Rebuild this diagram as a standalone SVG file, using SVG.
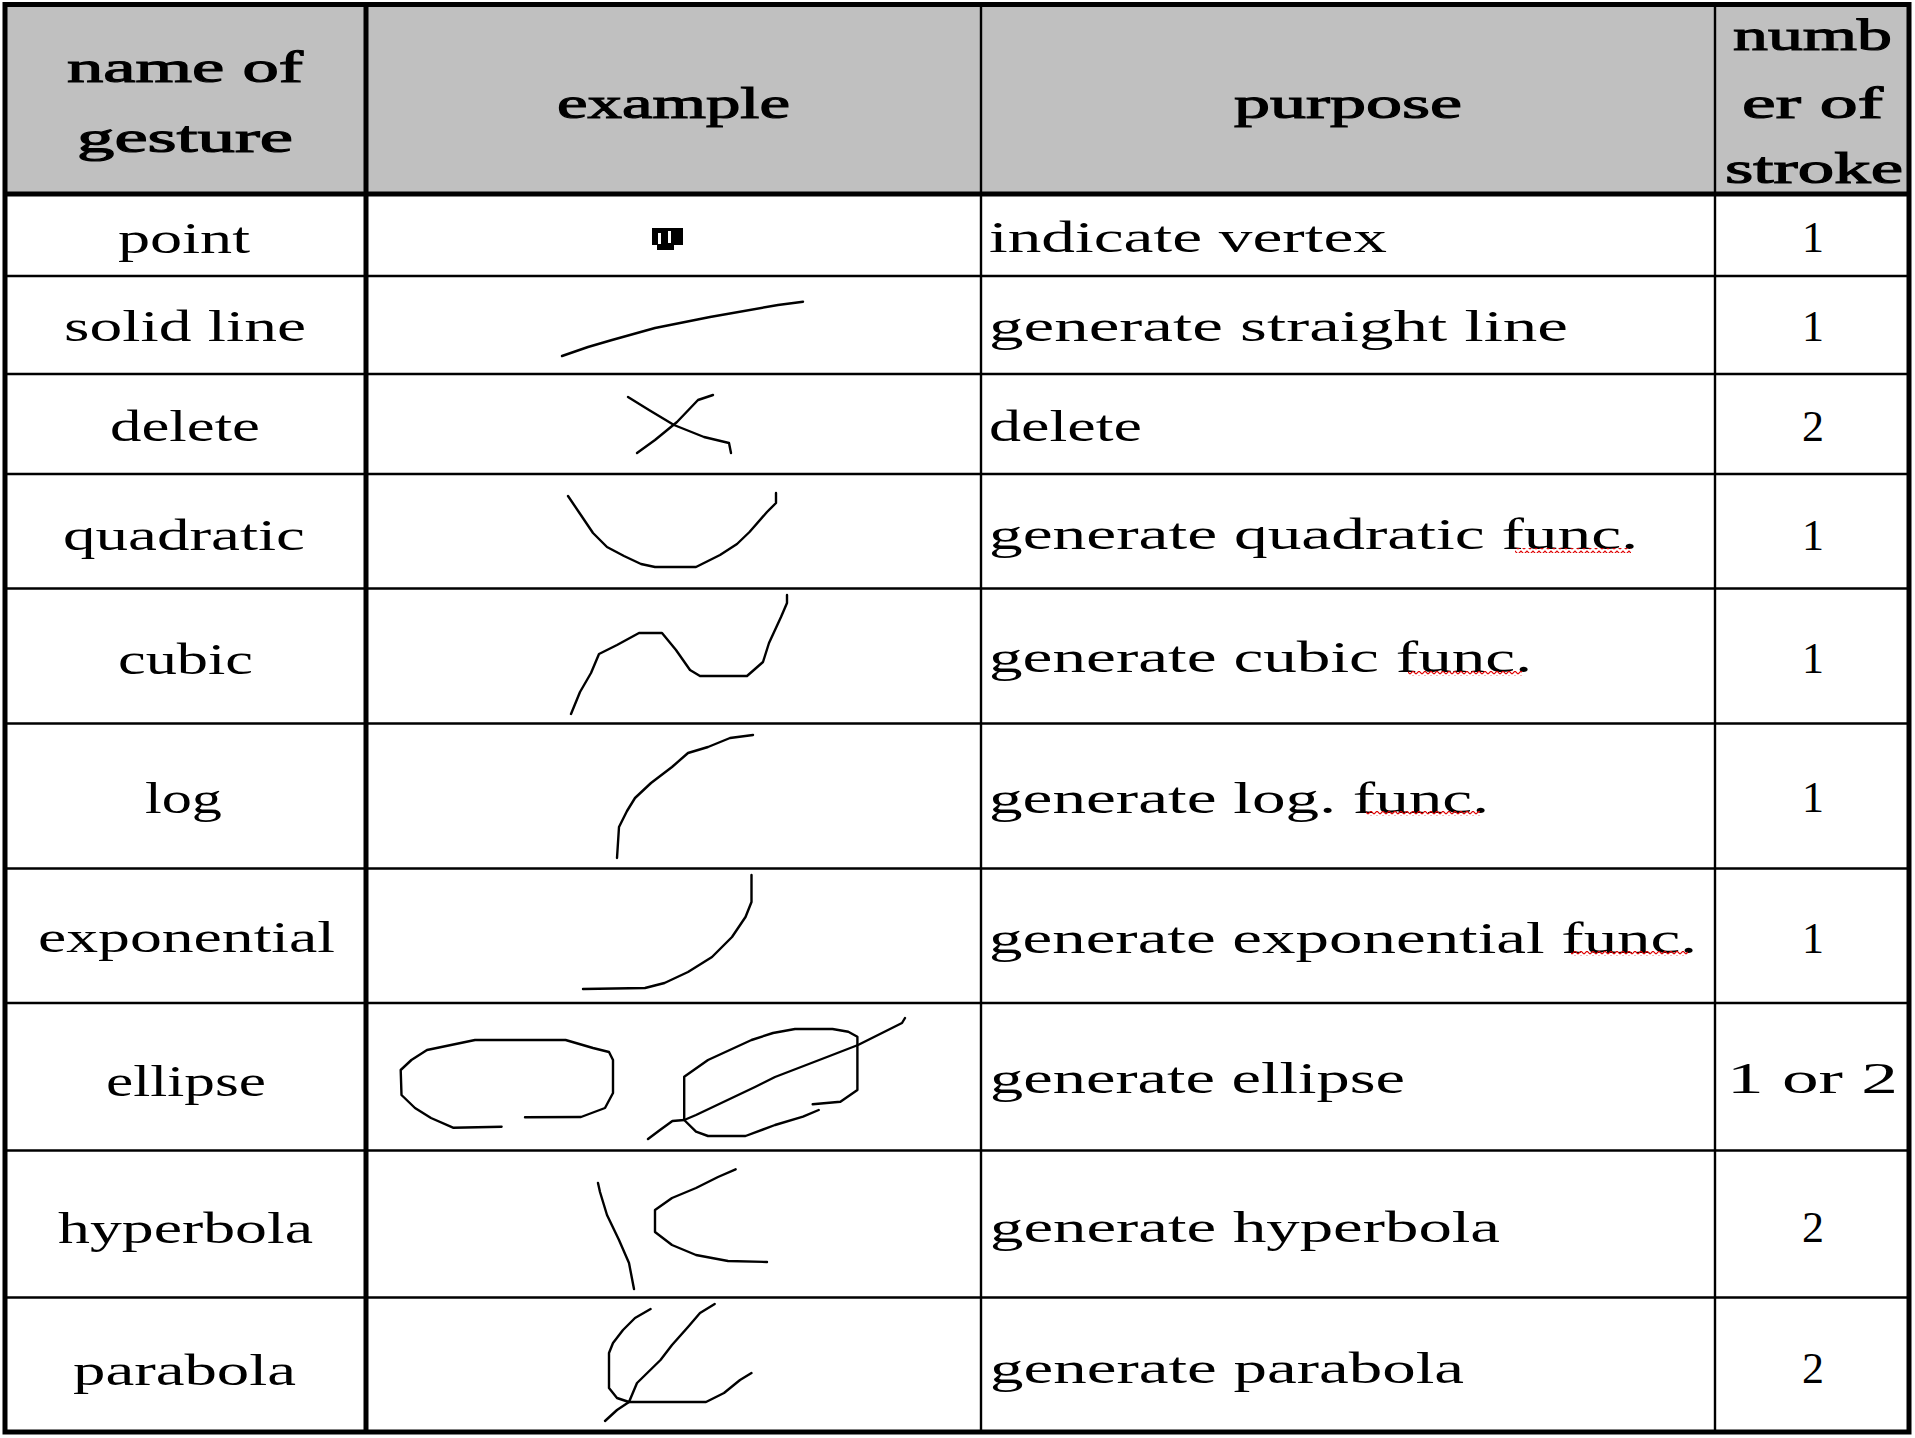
<svg xmlns="http://www.w3.org/2000/svg" width="1915" height="1438" viewBox="0 0 1915 1438">
<style>
.t{font-family:"Liberation Serif","DejaVu Serif",serif;font-size:44px;fill:#000}
.h{stroke:#000;stroke-width:1.1}
.c{text-anchor:middle}
.g{fill:none;stroke:#000;stroke-width:2.4;stroke-linejoin:round;stroke-linecap:round}
.thin{stroke:#000;stroke-width:2.4}
.thick{stroke:#000;stroke-width:5}
.sq{fill:url(#squiggle)}
</style>
<defs>
<pattern id="squiggle" x="0" y="0" width="6" height="5" patternUnits="userSpaceOnUse">
<polyline points="0,4 3,1 6,4" fill="none" stroke="#e00000" stroke-width="1.2"/>
</pattern>
</defs>
<rect x="0" y="0" width="1915" height="1438" fill="#fff"/>

<g id="grid">
<rect x="5" y="4.5" width="1904" height="189.5" fill="#c0c0c0"/>
<line class="thin" x1="5" y1="276" x2="1909" y2="276"/>
<line class="thin" x1="5" y1="374" x2="1909" y2="374"/>
<line class="thin" x1="5" y1="474" x2="1909" y2="474"/>
<line class="thin" x1="5" y1="588.5" x2="1909" y2="588.5"/>
<line class="thin" x1="5" y1="723.5" x2="1909" y2="723.5"/>
<line class="thin" x1="5" y1="868.5" x2="1909" y2="868.5"/>
<line class="thin" x1="5" y1="1003" x2="1909" y2="1003"/>
<line class="thin" x1="5" y1="1150.5" x2="1909" y2="1150.5"/>
<line class="thin" x1="5" y1="1297.5" x2="1909" y2="1297.5"/>
<line class="thin" x1="981" y1="4.5" x2="981" y2="1432"/>
<line class="thin" x1="1715" y1="4.5" x2="1715" y2="1432"/>
<line class="thick" x1="366" y1="4.5" x2="366" y2="1432"/>
<line class="thick" x1="5" y1="194" x2="1909" y2="194"/>
<rect x="5" y="4.5" width="1904" height="1427.5" fill="none" stroke="#000" stroke-width="5"/>
</g>

<g id="header">
<text class="t h" x="67" y="82" textLength="236" lengthAdjust="spacingAndGlyphs">name of</text>
<text class="t h" x="77" y="152" textLength="216" lengthAdjust="spacingAndGlyphs">gesture</text>
<text class="t h" x="557" y="118" textLength="233" lengthAdjust="spacingAndGlyphs">example</text>
<text class="t h" x="1234" y="118" textLength="228" lengthAdjust="spacingAndGlyphs">purpose</text>
<text class="t h" x="1733" y="50" textLength="159" lengthAdjust="spacingAndGlyphs">numb</text>
<text class="t h" x="1742" y="118" textLength="141" lengthAdjust="spacingAndGlyphs">er of</text>
<text class="t h" x="1725" y="183" textLength="178" lengthAdjust="spacingAndGlyphs">stroke</text>
</g>

<g id="row-point">
<text class="t" x="118" y="253" textLength="132" lengthAdjust="spacingAndGlyphs">point</text>
<path d="M652,228 H683 V245 H674 V250 H657 V245 H652 Z M658,233 V244 H661 V233 Z M668,231 V243 H671 V231 Z" fill="#000" fill-rule="evenodd"/>
<text class="t" x="989" y="252" textLength="398" lengthAdjust="spacingAndGlyphs">indicate vertex</text>
<text class="t c" x="1813" y="252">1</text>
</g>

<g id="row-solid-line">
<text class="t" x="64" y="341" textLength="242" lengthAdjust="spacingAndGlyphs">solid line</text>
<polyline class="g" points="562,356 588,347 612,340 655,328 710,317 778,305 803,301.7"/>
<text class="t" x="989" y="341" textLength="579" lengthAdjust="spacingAndGlyphs">generate straight line</text>
<text class="t c" x="1813" y="341">1</text>
</g>

<g id="row-delete">
<text class="t" x="110" y="441" textLength="150" lengthAdjust="spacingAndGlyphs">delete</text>
<polyline class="g" points="628,397 649,410 674,425 704,437 729,443 731,453"/>
<polyline class="g" points="713,395 698,400 677,422 655,440 637,453"/>
<text class="t" x="989" y="441" textLength="153" lengthAdjust="spacingAndGlyphs">delete</text>
<text class="t c" x="1813" y="441">2</text>
</g>

<g id="row-quadratic">
<text class="t" x="63" y="550" textLength="242" lengthAdjust="spacingAndGlyphs">quadratic</text>
<polyline class="g" points="568,496 579.5,513 593,533 607,547 624,556 641,564 655,567 696,567 720,555 737,544 749.5,532 767,512 776,503 776,493"/>
<text class="t" x="989" y="549" textLength="649" lengthAdjust="spacingAndGlyphs">generate quadratic func.</text>
<rect class="sq" x="1515" y="548" width="116" height="5"/>
<text class="t c" x="1813" y="550">1</text>
</g>

<g id="row-cubic">
<text class="t" x="118" y="674" textLength="135" lengthAdjust="spacingAndGlyphs">cubic</text>
<polyline class="g" points="571,714 580,692 591,673 599,654 617,645 639,633 662,633 676,650 690,670 700,676 747,676 763,662 769,643 781,617 787,603 787,595"/>
<text class="t" x="989" y="672" textLength="543" lengthAdjust="spacingAndGlyphs">generate cubic func.</text>
<rect class="sq" x="1408" y="671" width="114" height="5"/>
<text class="t c" x="1813" y="673">1</text>
</g>

<g id="row-log">
<text class="t" x="145" y="813" textLength="77" lengthAdjust="spacingAndGlyphs">log</text>
<polyline class="g" points="617,858 619,827 627,811 635,798 651,783 672,767 688,753 708,747 730,738 753,735"/>
<text class="t" x="989" y="813" textLength="500" lengthAdjust="spacingAndGlyphs">generate log. func.</text>
<rect class="sq" x="1366" y="811" width="114" height="5"/>
<text class="t c" x="1813" y="812">1</text>
</g>

<g id="row-exponential">
<text class="t" x="38" y="952" textLength="297" lengthAdjust="spacingAndGlyphs">exponential</text>
<polyline class="g" points="751.5,875 751.5,902 745.5,917 732,937 712,957 688,972 664.5,983 645,988 583,989"/>
<text class="t" x="989" y="953" textLength="708" lengthAdjust="spacingAndGlyphs">generate exponential func.</text>
<rect class="sq" x="1571" y="951" width="117" height="5"/>
<text class="t c" x="1813" y="953">1</text>
</g>

<g id="row-ellipse">
<text class="t" x="106" y="1096" textLength="160" lengthAdjust="spacingAndGlyphs">ellipse</text>
<polyline class="g" points="501.6,1126.7 453,1127.7 431,1118 415,1108 401.5,1095 400.7,1070 411.4,1060 427,1050 475,1040 565.6,1040 593,1048 609,1052 613,1060 613,1093 605,1108 581,1117 525,1117.3"/>
<polyline class="g" points="812.7,1104.3 840.4,1101.7 857.4,1090 857.4,1036.7 848.3,1031.7 832.5,1029 795,1029 773,1033 751.5,1040 708,1060 684.2,1076.7 684.2,1120 696,1131.7 708,1136 745.5,1136 775,1125 803,1116.7 818.7,1110"/>
<polyline class="g" points="648,1139 660,1130 672.4,1121 684.2,1120 696,1115 755,1087 775,1077 827,1057 858,1045 902,1023 905,1018"/>
<text class="t" x="990" y="1093" textLength="415" lengthAdjust="spacingAndGlyphs">generate ellipse</text>
<text class="t" x="1727" y="1093" textLength="171" lengthAdjust="spacingAndGlyphs">1 or 2</text>
</g>

<g id="row-hyperbola">
<text class="t" x="58" y="1243" textLength="255" lengthAdjust="spacingAndGlyphs">hyperbola</text>
<polyline class="g" points="598,1183 600,1192 607,1215 619,1240 629,1263 634,1289"/>
<polyline class="g" points="735.6,1169.3 718,1177 696,1188 672,1198 655,1210 655,1232 672,1245 696,1255 728,1261 767,1262"/>
<text class="t" x="990" y="1242" textLength="510" lengthAdjust="spacingAndGlyphs">generate hyperbola</text>
<text class="t c" x="1813" y="1242">2</text>
</g>

<g id="row-parabola">
<text class="t" x="73" y="1385" textLength="223" lengthAdjust="spacingAndGlyphs">parabola</text>
<polyline class="g" points="650.6,1309 635,1318 623,1330 613,1343 609,1353 609,1388 617,1398 629,1402 706,1402 724,1393 740,1380 751.5,1373"/>
<polyline class="g" points="714.7,1304 700,1313 688,1327 672,1345 660.5,1360 637,1383 629,1402 617,1410 605,1421"/>
<text class="t" x="990" y="1383" textLength="474" lengthAdjust="spacingAndGlyphs">generate parabola</text>
<text class="t c" x="1813" y="1383">2</text>
</g>
</svg>
